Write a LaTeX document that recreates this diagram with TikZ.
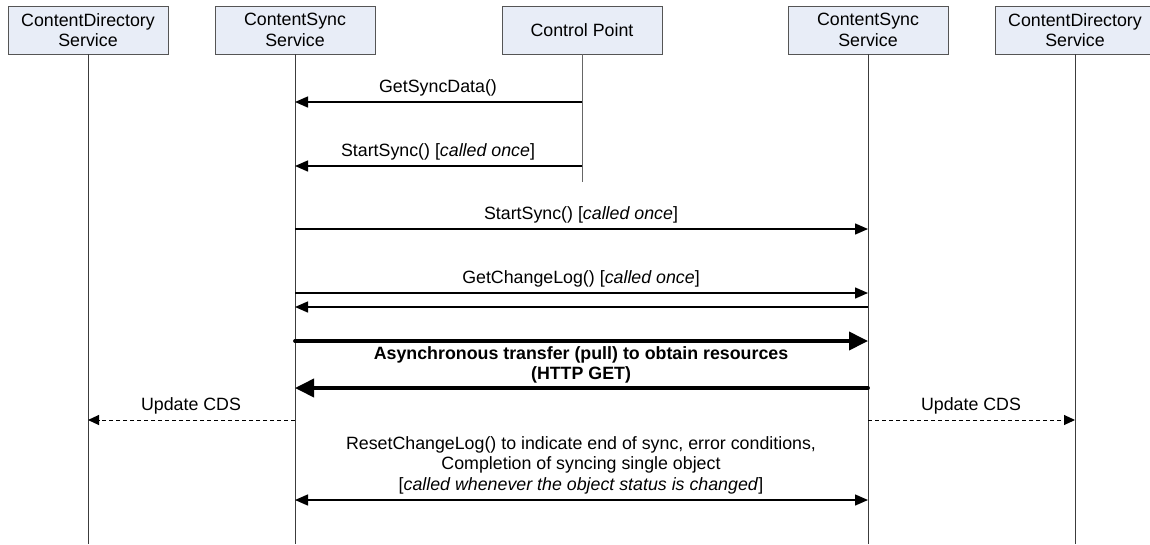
\documentclass[tikz,border=0pt]{standalone}
\usepackage{fontspec}
\setmainfont{Liberation Sans}
\usetikzlibrary{arrows.meta}
\definecolor{boxfill}{RGB}{232,237,247}
\definecolor{boxline}{RGB}{85,85,85}
\definecolor{lifecol}{RGB}{60,60,60}
\begin{document}
\begin{tikzpicture}[x=1pt,y=-1pt,
  every node/.style={font=\fontsize{17.8}{20.5}\selectfont},
  actor/.style={draw=boxline, fill=boxfill, line width=0.9pt,
    minimum width=160pt, minimum height=48pt, align=center, inner sep=0pt},
  life/.style={draw=lifecol, line width=1pt},
  msg/.style={draw=black, line width=1.4pt, -{Triangle[length=13pt,width=11pt]}},
  bigmsg/.style={draw=black, line width=3.8pt, line cap=round, -{Triangle[length=19pt,width=18pt]}},
  bothmsg/.style={draw=black, line width=1.4pt, {Triangle[length=13pt,width=11pt]}-{Triangle[length=13pt,width=11pt]}},
  update/.style={draw=black, line width=1pt, dash pattern=on 4pt off 3pt, -{Triangle[length=11pt,width=10pt]}},
  lbl/.style={anchor=base, inner sep=0pt, align=center}]

\useasboundingbox[fill=white] (0,0) rectangle (1150,544);

% participants
\node[actor] (cdsL) at (88,30)   {ContentDirectory\\Service};
\node[actor] (cssL) at (295,30)  {ContentSync\\Service};
\node[actor] (cp)   at (582,30)  {Control Point};
\node[actor] (cssR) at (868,30)  {ContentSync\\Service};
\node[actor] (cdsR) at (1075,30) {ContentDirectory\\Service};

% lifelines
\coordinate (cdsLend) at (88,544);
\coordinate (cssLend) at (295,544);
\coordinate (cpend)   at (582,182);
\coordinate (cssRend) at (868,544);
\coordinate (cdsRend) at (1075,544);
\draw[life] (cdsL.south) -- (cdsLend);
\draw[life] (cssL.south) -- (cssLend);
\draw[life, draw=gray!80!black] (cp.south) -- (cpend);
\draw[life] (cssR.south) -- (cssRend);
\draw[life] (cdsR.south) -- (cdsRend);

% message end points on the lifelines
\foreach \y/\n in {102/a,166/b} {
  \coordinate (cp\n) at (cp |- 0,\y);
  \coordinate (cssL\n) at (cssL |- 0,\y);
}
\foreach \y/\n in {229/c,293/d,307/e,341/f,388/g,500/j} {
  \coordinate (cssL\n) at (cssL |- 0,\y);
  \coordinate (cssR\n) at (cssR |- 0,\y);
}
\coordinate (cssLh) at (cssL |- 0,420);
\coordinate (cssRh) at (cssR |- 0,420);
\coordinate (cdsLh) at (cdsL |- 0,420);
\coordinate (cdsRh) at (cdsR |- 0,420);

% control point requests
\draw[msg] (cpa) -- (cssLa);
\node[lbl] (la) at (438,92) {GetSyncData()};
\draw[msg] (cpb) -- (cssLb);
\node[lbl] (lb) at (438,156) {StartSync() [\textit{called once}]};

% content sync peers
\draw[msg] (cssLc) -- (cssRc);
\node[lbl] (lc) at (581,219) {StartSync() [\textit{called once}]};
\draw[msg] (cssLd) -- (cssRd);
\node[lbl] (ld) at (581,283) {GetChangeLog() [\textit{called once}]};
\draw[msg] (cssRe) -- (cssLe);

% resource transfer (base anchor sits on the last line)
\draw[bigmsg] (cssLf) -- (cssRf);
\draw[bigmsg] (cssRg) -- (cssLg);
\node[lbl, font=\fontsize{17.8}{20}\selectfont\bfseries] (lg) at (581,379)
  {Asynchronous transfer (pull) to obtain resources\\(HTTP GET)};

% directory updates
\draw[update] (cssLh) -- (cdsLh);
\node[lbl] (lhL) at (191,410) {Update CDS};
\draw[update] (cssRh) -- (cdsRh);
\node[lbl] (lhR) at (971,410) {Update CDS};

% change log reset
\draw[bothmsg] (cssLj) -- (cssRj);
\node[lbl] (lj) at (581,490)
  {ResetChangeLog() to indicate end of sync, error conditions,\\
   Completion of syncing single object\\
   {[}\textit{called whenever the object status is changed}{]}};
\end{tikzpicture}
\end{document}
